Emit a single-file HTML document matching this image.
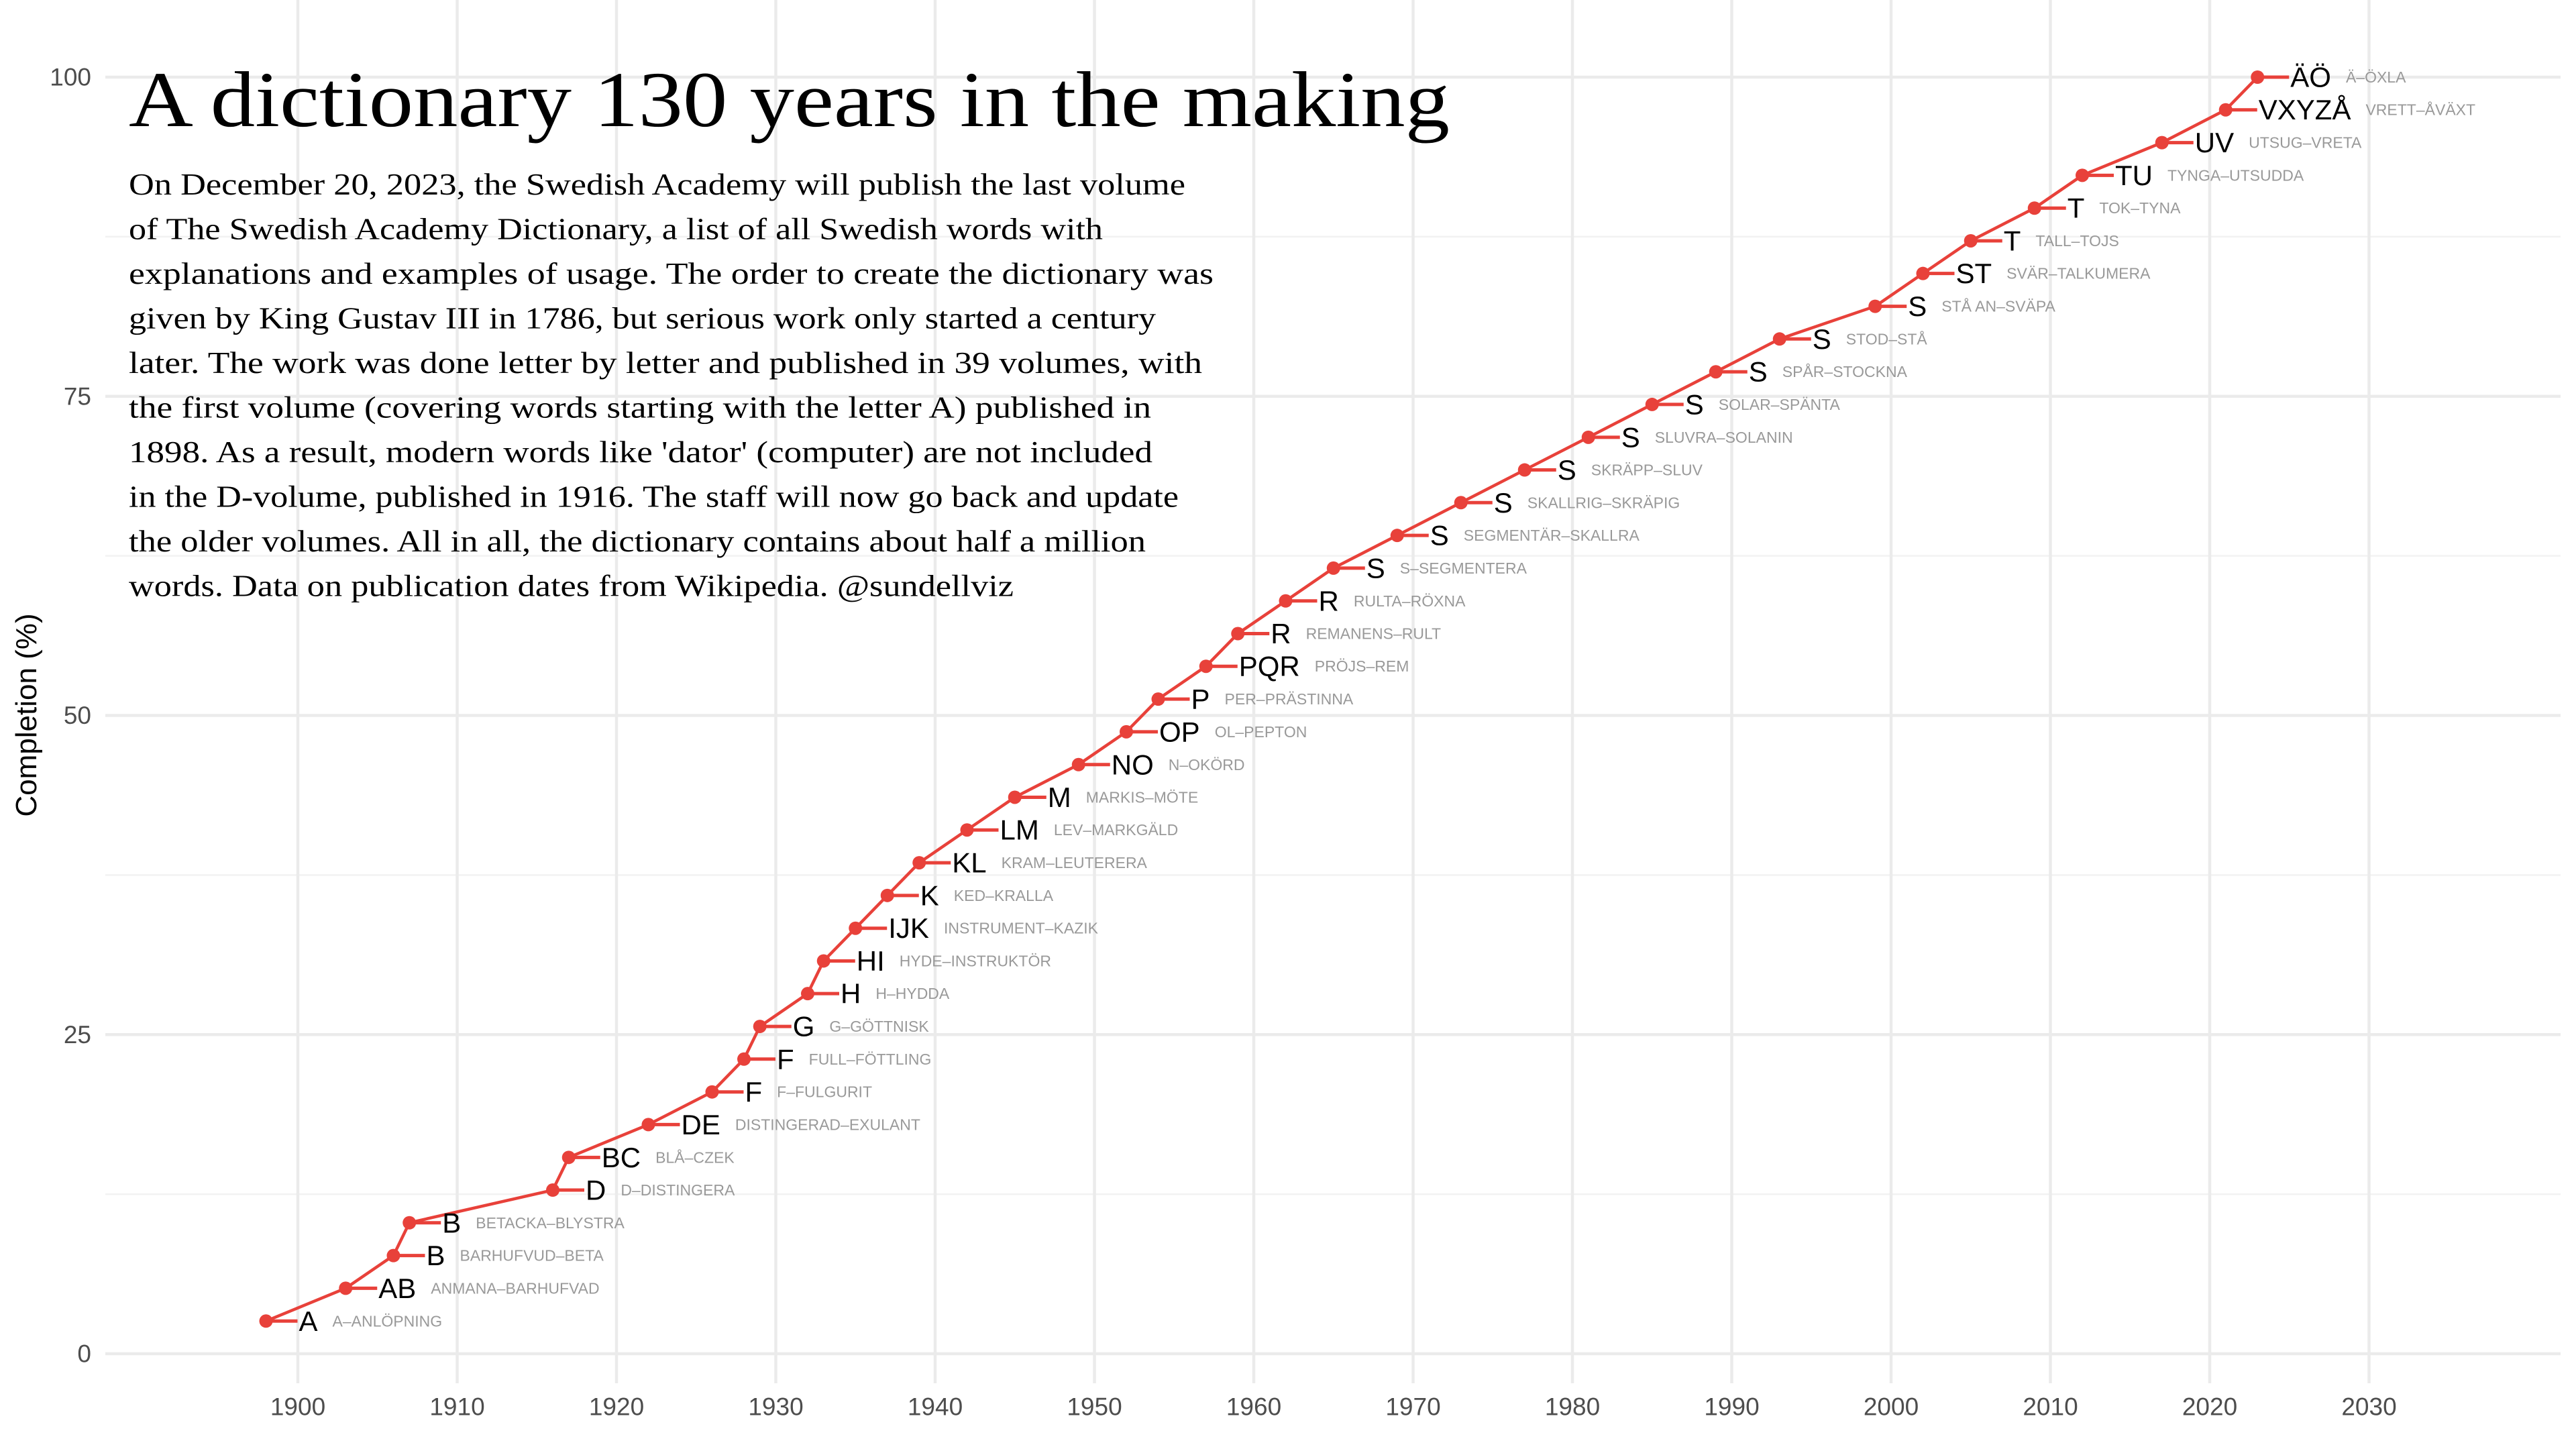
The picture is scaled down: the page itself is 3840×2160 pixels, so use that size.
<!DOCTYPE html>
<html><head><meta charset="utf-8"><style>
html,body{margin:0;padding:0;background:#fff;}
svg{display:block;}
</style></head><body>
<svg id="chart" width="3840" height="2160" viewBox="0 0 3840 2160" xmlns="http://www.w3.org/2000/svg">
<rect x="0" y="0" width="3840" height="2160" fill="#fff"/>
<g id="grid"></g>
<g id="axes"></g>
<text transform="translate(54,1066) rotate(-90)" text-anchor="middle" font-family="Liberation Sans, sans-serif" font-size="44" fill="#000">Completion (%)</text>
<g id="marks"></g>
<g font-family="Liberation Serif, serif" fill="#000">
<text x="192" y="188" font-size="118" textLength="1969" lengthAdjust="spacingAndGlyphs">A dictionary 130 years in the making</text>
<g id="body" font-size="46"></g>
</g>
</svg>
<script>
const years = [1898,1903,1906,1907,1916,1917,1922,1926,1928,1929,1932,1933,1935,1937,1939,1942,1945,1949,1952,1954,1957,1959,1962,1965,1969,1973,1977,1981,1985,1989,1993,1999,2002,2005,2009,2012,2017,2021,2023];
const letters = ["A","AB","B","B","D","BC","DE","F","F","G","H","HI","IJK","K","KL","LM","M","NO","OP","P","PQR","R","R","S","S","S","S","S","S","S","S","S","ST","T","T","TU","UV","VXYZÅ","ÄÖ"];
const ranges = ["A–ANLÖPNING","ANMANA–BARHUFVAD","BARHUFVUD–BETA","BETACKA–BLYSTRA","D–DISTINGERA","BLÅ–CZEK","DISTINGERAD–EXULANT","F–FULGURIT","FULL–FÖTTLING","G–GÖTTNISK","H–HYDDA","HYDE–INSTRUKTÖR","INSTRUMENT–KAZIK","KED–KRALLA","KRAM–LEUTERERA","LEV–MARKGÄLD","MARKIS–MÖTE","N–OKÖRD","OL–PEPTON","PER–PRÄSTINNA","PRÖJS–REM","REMANENS–RULT","RULTA–RÖXNA","S–SEGMENTERA","SEGMENTÄR–SKALLRA","SKALLRIG–SKRÄPIG","SKRÄPP–SLUV","SLUVRA–SOLANIN","SOLAR–SPÄNTA","SPÅR–STOCKNA","STOD–STÅ","STÅ AN–SVÄPA","SVÄR–TALKUMERA","TALL–TOJS","TOK–TYNA","TYNGA–UTSUDDA","UTSUG–VRETA","VRETT–ÅVÄXT","Ä–ÖXLA"];
const completion = [2.56,5.13,7.69,10.26,12.82,15.38,17.95,20.51,23.08,25.64,28.21,30.77,33.33,35.90,38.46,41.03,43.59,46.15,48.72,51.28,53.85,56.41,58.97,61.54,64.10,66.67,69.23,71.79,74.36,76.92,79.49,82.05,84.62,87.18,89.74,92.31,94.87,97.44,100];
const xTicks = [1900,1910,1920,1930,1940,1950,1960,1970,1980,1990,2000,2010,2020,2030];
const yTicks = [0,25,50,75,100];
const yMinor = [12.5,37.5,62.5,87.5];
const bodyLines = ["On December 20, 2023, the Swedish Academy will publish the last volume","of The Swedish Academy Dictionary, a list of all Swedish words with","explanations and examples of usage. The order to create the dictionary was","given by King Gustav III in 1786, but serious work only started a century","later. The work was done letter by letter and published in 39 volumes, with","the first volume (covering words starting with the letter A) published in","1898. As a result, modern words like 'dator' (computer) are not included","in the D-volume, published in 1916. The staff will now go back and update","the older volumes. All in all, the dictionary contains about half a million","words. Data on publication dates from Wikipedia. @sundellviz"];
const bodyEnds = [1767,1644,1809,1723,1792,1716,1718,1757,1708,1511];

const NS="http://www.w3.org/2000/svg";
const X0=157, X1=3817, YB=2062;
function xs(y){return 444+(y-1900)*23.75;}
function ys(v){return 2018-v*19.03;}
function mk(tag,parent,attrs){const e=document.createElementNS(NS,tag);for(const k in attrs)e.setAttribute(k,attrs[k]);parent.appendChild(e);return e;}
const grid=document.getElementById('grid'), axes=document.getElementById('axes'), marks=document.getElementById('marks'), body=document.getElementById('body');

yMinor.forEach(v=>{const l=mk('line',grid,{x1:X0,x2:X1,y1:ys(v),y2:ys(v),stroke:'#f2f2f2','stroke-width':2.5});

});
yTicks.forEach(v=>{const l=mk('line',grid,{x1:X0,x2:X1,y1:ys(v),y2:ys(v),stroke:'#ebebeb','stroke-width':4.5});


const t=mk('text',axes,{x:136,y:ys(v),'text-anchor':'end','dominant-baseline':'central','font-family':'Liberation Sans, sans-serif','font-size':37,fill:'#4d4d4d'});
t.textContent=v;

});
xTicks.forEach(v=>{const l=mk('line',grid,{x1:xs(v),x2:xs(v),y1:0,y2:YB,stroke:'#ebebeb','stroke-width':4.5});


const t=mk('text',axes,{x:xs(v),y:2097,'text-anchor':'middle','dominant-baseline':'central','font-family':'Liberation Sans, sans-serif','font-size':37,fill:'#4d4d4d'});
t.textContent=v;

});

bodyLines.forEach((s,i)=>{const t=mk('text',body,{x:192,y:290+i*66.5,textLength:bodyEnds[i]-192,lengthAdjust:'spacingAndGlyphs'});
t.textContent=s;

});

const RED='#e8413a';
let d='';
years.forEach((y,i)=>{d+=(i?'L':'M')+xs(y)+','+ys(completion[i]);});
const path=mk('path',marks,{d:d,fill:'none',stroke:RED,'stroke-width':4.5,'stroke-linejoin':'round'});



years.forEach((y,i)=>{
  const px=xs(y), py=ys(completion[i]);
  const g=mk('g',marks,{});
  
  
  const seg=mk('line',g,{x1:px,x2:px+47,y1:py,y2:py,stroke:RED,'stroke-width':5});
  
  
  const c=mk('circle',g,{cx:px,cy:py,r:10,fill:RED});
  
  
  const t=mk('text',g,{x:px+49,y:py,'dominant-baseline':'central','font-family':'Liberation Sans, sans-serif','font-size':42,fill:'#000'});
  t.textContent=letters[i];
  
  
  const w=t.getComputedTextLength?t.getComputedTextLength():letters[i].length*27;
  const s=mk('text',g,{x:px+49+w+22,y:py,'dominant-baseline':'central','font-family':'Liberation Sans, sans-serif','font-size':23,fill:'#999'});
  s.textContent=ranges[i];
  
  
});
</script>
</body></html>
